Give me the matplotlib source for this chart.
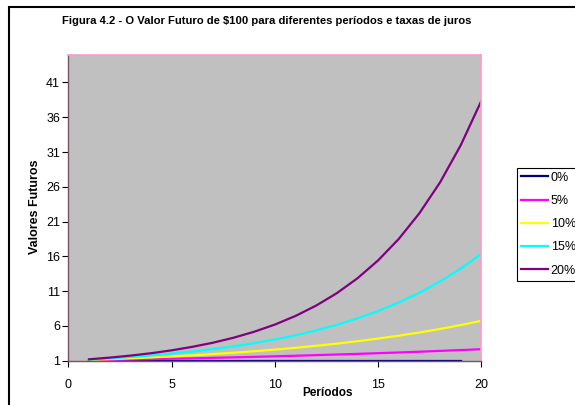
import matplotlib.pyplot as plt
from matplotlib.patches import Rectangle

plt.rcParams["font.family"] = ["Liberation Sans", "DejaVu Sans"]

# future value of $1 per period, one list per interest rate
periods = list(range(1, 21))
fv_0 = [1.0] * 19
fv_5 = [1.05, 1.10, 1.16, 1.22, 1.28, 1.34, 1.41, 1.48, 1.55, 1.63,
        1.71, 1.80, 1.89, 1.98, 2.08, 2.18, 2.29, 2.41, 2.53, 2.65]
fv_10 = [1.10, 1.21, 1.33, 1.46, 1.61, 1.77, 1.95, 2.14, 2.36, 2.59,
         2.85, 3.14, 3.45, 3.80, 4.18, 4.59, 5.05, 5.56, 6.12, 6.73]
fv_15 = [1.15, 1.32, 1.52, 1.75, 2.01, 2.31, 2.66, 3.06, 3.52, 4.05,
         4.65, 5.35, 6.15, 7.08, 8.14, 9.36, 10.76, 12.38, 14.23, 16.37]
fv_20 = [1.20, 1.44, 1.73, 2.07, 2.49, 2.99, 3.58, 4.30, 5.16, 6.19,
         7.43, 8.92, 10.70, 12.84, 15.41, 18.49, 22.19, 26.62, 31.95, 38.34]
rate_labels = ["0%", "5%", "10%", "15%", "20%"]
y_ticks = [1, 6, 11, 16, 21, 26, 31, 36, 41]
x_ticks = [0, 5, 10, 15, 20]

series = [fv_0, fv_5, fv_10, fv_15, fv_20]
colors = ["#000080", "#ff00ff", "#ffff00", "#00ffff", "#800080"]

fig = plt.figure(figsize=(5.75, 4.05), dpi=100)
ax = fig.add_axes([0.1188, 0.1094, 0.7182, 0.7556])
ax.set_facecolor("#c0c0c0")

for vals, c, lab in zip(series, colors, rate_labels):
    ax.plot(periods[:len(vals)], vals, color=c, lw=1.6, label=lab,
            solid_joinstyle="round")

ax.set_xlim(0, 20)
ax.set_ylim(1, 45)
ax.set_xticks(x_ticks)
ax.set_yticks(y_ticks)
ax.tick_params(axis="y", direction="out", length=4, width=0.8, pad=2, labelsize=9)
ax.tick_params(axis="x", direction="out", length=4, width=0.8, pad=9, labelsize=9)

for side in ["left", "bottom"]:
    ax.spines[side].set_color("#7a5068")
    ax.spines[side].set_linewidth(1.0)
for side in ["top", "right"]:
    ax.spines[side].set_color("#ff99cc")
    ax.spines[side].set_linewidth(1.2)

fig.text(0.463, 0.949, "Figura 4.2 - O Valor Futuro de $100 para diferentes períodos e taxas de juros",
         ha="center", va="center", fontsize=8.1, fontweight="bold")
fig.text(0.061, 0.49, "Valores Futuros", rotation=90, ha="center", va="center",
         fontsize=9, fontweight="bold")
fig.text(0.570, 0.030, "Períodos", ha="center", va="center", fontsize=8.5, fontweight="bold")

leg = fig.legend(loc="upper left", bbox_to_anchor=(517 / 575, 1 - 168 / 405),
                 frameon=True, fancybox=False, edgecolor="black", framealpha=1,
                 fontsize=9, handlelength=2.2, handletextpad=0.2, labelspacing=0.9,
                 borderpad=0.3, borderaxespad=0)
leg.get_frame().set_linewidth(0.8)

# outer chart frame, open past the right and bottom edges
fig.patches.append(Rectangle((9 / 575, -0.1), 1.2, 1 - 7 / 405 + 0.1,
                             transform=fig.transFigure, fill=False,
                             edgecolor="black", lw=1.5))

fig.savefig("out.png", dpi=100)
